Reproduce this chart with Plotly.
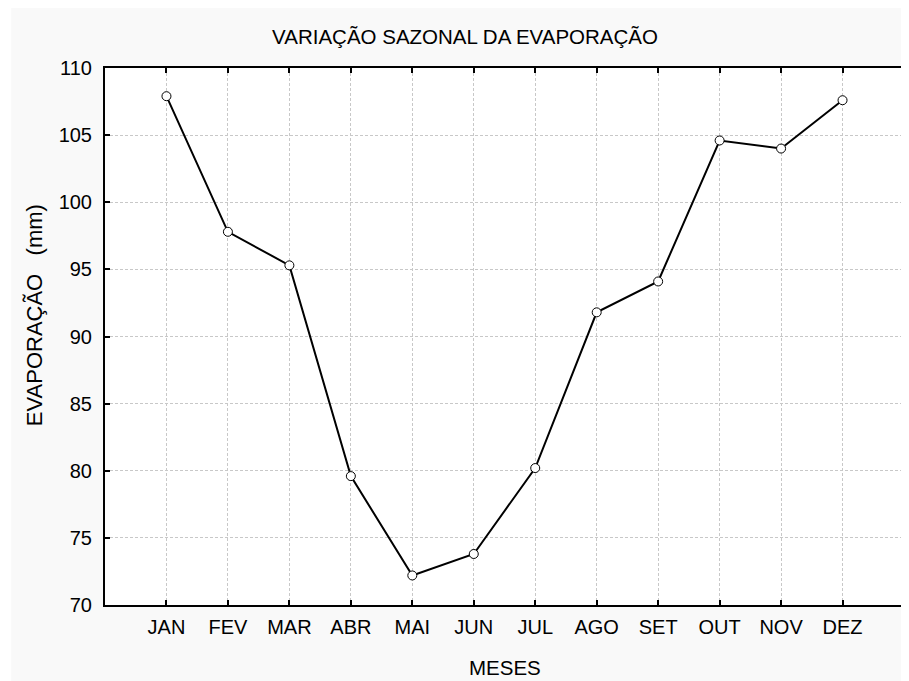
import plotly.graph_objects as go

months = ["JAN", "FEV", "MAR", "ABR", "MAI", "JUN", "JUL", "AGO", "SET", "OUT", "NOV", "DEZ"]
evaporation = [107.9, 97.8, 95.3, 79.6, 72.2, 73.8, 80.2, 91.8, 94.1, 104.6, 104.0, 107.6]
y_ticks = [70, 75, 80, 85, 90, 95, 100, 105, 110]

x_idx = list(range(len(months)))
FONT = "Liberation Sans, Arial, sans-serif"
NB = "\u00a0"

fig = go.Figure()
fig.add_trace(go.Scatter(
    x=x_idx, y=evaporation, mode="lines+markers",
    line=dict(color="black", width=2),
    marker=dict(symbol="circle", size=9, color="white", line=dict(color="black", width=1)),
    showlegend=False, hoverinfo="skip",
))

fig.update_layout(
    width=901, height=673,
    margin=dict(l=97, r=3, t=60, b=76),
    paper_bgcolor="white",
    plot_bgcolor="white",
    font=dict(family=FONT, size=20, color="black"),
    title=dict(text="VARIAÇÃO SAZONAL DA EVAPORAÇÃO", x=457/901, xref="container", xanchor="center",
               y=1-29/673, yref="container", yanchor="middle",
               font=dict(family=FONT, size=20.5, color="black")),
    shapes=[
        dict(type="rect", xref="paper", yref="paper", x0=-0.1174, x1=1.02, y0=-0.2, y1=1.2,
             fillcolor="#f9f9f9", line=dict(width=0), layer="below"),
        dict(type="rect", xref="paper", yref="paper", x0=0, x1=1, y0=0, y1=1,
             fillcolor="white", line=dict(width=0), layer="below"),
    ],
    annotations=[
        dict(text="EVAPORAÇÃO" + NB * 3 + "(mm)", xref="paper", yref="paper",
             x=(26-97)/801, y=(597-307)/537,
             xanchor="center", yanchor="middle", textangle=-90, showarrow=False,
             font=dict(family=FONT, size=22, color="black")),
        dict(text="MESES", xref="paper", yref="paper", x=0.5, y=(597-659)/537,
             xanchor="center", yanchor="middle", showarrow=False,
             font=dict(family=FONT, size=20.5, color="black")),
    ],
)

fig.update_xaxes(
    range=[-1, 12], tickvals=x_idx, ticktext=months,
    ticks="inside", ticklen=5, tickwidth=2, tickcolor="black",
    showline=True, linecolor="black", linewidth=2, mirror="ticks",
    showgrid=True, gridcolor="#c8c8c8", gridwidth=1, griddash="3px,2px",
    zeroline=False, fixedrange=True, ticklabelstandoff=3, tickfont=dict(size=20),
)
fig.update_yaxes(
    range=[70, 110], tickvals=y_ticks,
    ticks="inside", ticklen=5, tickwidth=2, tickcolor="black",
    showline=True, linecolor="black", linewidth=2, mirror=True,
    showgrid=True, gridcolor="#c8c8c8", gridwidth=1, griddash="3px,2px",
    zeroline=False, fixedrange=True, ticklabelstandoff=7, tickfont=dict(size=20),
)

fig.write_html("out.html")
